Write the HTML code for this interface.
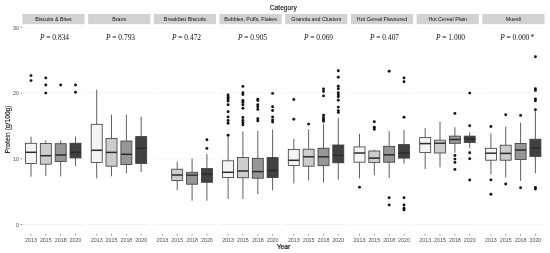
<!DOCTYPE html>
<html><head><meta charset="utf-8"><title>Protein by category and year</title>
<style>html,body{margin:0;padding:0;background:#fff}svg{display:block}</style></head>
<body>
<svg width="550" height="253" viewBox="0 0 550 253">
<rect width="550" height="253" fill="#fff"/>
<text x="283.3" y="9.7" text-anchor="middle" font-family="Liberation Sans, Arial, sans-serif" font-size="6.7" fill="#111" stroke="#111" stroke-width="0.12">Category</text>
<text x="283.5" y="248.7" text-anchor="middle" font-family="Liberation Sans, Arial, sans-serif" font-size="6.8" fill="#111" stroke="#111" stroke-width="0.2">Year</text>
<text transform="translate(10.1,129.4) rotate(-90)" text-anchor="middle" font-family="Liberation Sans, Arial, sans-serif" font-size="6.7" fill="#111" stroke="#111" stroke-width="0.12">Protein (g/100g)</text>
<text x="19.0" y="226.8" text-anchor="end" font-family="Liberation Sans, Arial, sans-serif" font-size="5.3" fill="#4d4d4d">0</text>
<line x1="20.6" x2="22.4" y1="224.5" y2="224.5" stroke="#333" stroke-width="0.5"/>
<text x="19.0" y="161.1" text-anchor="end" font-family="Liberation Sans, Arial, sans-serif" font-size="5.3" fill="#4d4d4d">10</text>
<line x1="20.6" x2="22.4" y1="158.8" y2="158.8" stroke="#333" stroke-width="0.5"/>
<text x="19.0" y="95.4" text-anchor="end" font-family="Liberation Sans, Arial, sans-serif" font-size="5.3" fill="#4d4d4d">20</text>
<line x1="20.6" x2="22.4" y1="93.1" y2="93.1" stroke="#333" stroke-width="0.5"/>
<text x="19.0" y="29.7" text-anchor="end" font-family="Liberation Sans, Arial, sans-serif" font-size="5.3" fill="#4d4d4d">30</text>
<line x1="20.6" x2="22.4" y1="27.4" y2="27.4" stroke="#333" stroke-width="0.5"/>
<rect x="22.4" y="14" width="62.2" height="10.2" fill="#d2d2d2"/>
<text x="53.5" y="21.3" text-anchor="middle" font-family="Liberation Sans, Arial, sans-serif" font-size="5.3" fill="#111">Biscuits &amp; Bites</text>
<line x1="22.4" x2="84.6" y1="224.5" y2="224.5" stroke="#d0d0d0" stroke-width="0.6" stroke-dasharray="0.8 1.2"/>
<line x1="22.4" x2="84.6" y1="158.8" y2="158.8" stroke="#d0d0d0" stroke-width="0.6" stroke-dasharray="0.8 1.2"/>
<line x1="22.4" x2="84.6" y1="93.1" y2="93.1" stroke="#d0d0d0" stroke-width="0.6" stroke-dasharray="0.8 1.2"/>
<line x1="22.4" x2="84.6" y1="27.4" y2="27.4" stroke="#ececec" stroke-width="0.6" stroke-dasharray="0.8 1.2"/>
<text x="54.5" y="39.8" text-anchor="middle" font-family="Liberation Serif, Times New Roman, serif" font-size="7.45" fill="#111"><tspan font-style="italic">P</tspan> = 0.834</text>
<line x1="31.0" x2="31.0" y1="233.9" y2="235.6" stroke="#333" stroke-width="0.5"/>
<text x="31.0" y="241.8" text-anchor="middle" font-family="Liberation Sans, Arial, sans-serif" font-size="5.3" fill="#4d4d4d">2013</text>
<line x1="31.0" x2="31.0" y1="136.5" y2="143.3" stroke="#383838" stroke-width="0.8"/>
<line x1="31.0" x2="31.0" y1="163.4" y2="176.7" stroke="#383838" stroke-width="0.8"/>
<rect x="25.5" y="143.3" width="11.0" height="20.1" fill="#f4f4f4" stroke="#383838" stroke-width="0.8"/>
<line x1="25.5" x2="36.5" y1="152.3" y2="152.3" stroke="#2a2a2a" stroke-width="1.5"/>
<circle cx="31.0" cy="75.6" r="1.45" fill="#111"/>
<circle cx="31.0" cy="80.6" r="1.45" fill="#111"/>
<line x1="45.8" x2="45.8" y1="233.9" y2="235.6" stroke="#333" stroke-width="0.5"/>
<text x="45.8" y="241.8" text-anchor="middle" font-family="Liberation Sans, Arial, sans-serif" font-size="5.3" fill="#4d4d4d">2015</text>
<line x1="45.8" x2="45.8" y1="140.4" y2="143.4" stroke="#383838" stroke-width="0.8"/>
<line x1="45.8" x2="45.8" y1="164.2" y2="176.1" stroke="#383838" stroke-width="0.8"/>
<rect x="40.3" y="143.4" width="11.0" height="20.8" fill="#cccccc" stroke="#383838" stroke-width="0.8"/>
<line x1="40.3" x2="51.3" y1="155.7" y2="155.7" stroke="#2a2a2a" stroke-width="1.5"/>
<circle cx="45.8" cy="77.9" r="1.45" fill="#111"/>
<circle cx="45.8" cy="85" r="1.45" fill="#111"/>
<circle cx="45.8" cy="93.1" r="1.45" fill="#111"/>
<line x1="60.7" x2="60.7" y1="233.9" y2="235.6" stroke="#333" stroke-width="0.5"/>
<text x="60.7" y="241.8" text-anchor="middle" font-family="Liberation Sans, Arial, sans-serif" font-size="5.3" fill="#4d4d4d">2018</text>
<line x1="60.7" x2="60.7" y1="140.4" y2="143.7" stroke="#383838" stroke-width="0.8"/>
<line x1="60.7" x2="60.7" y1="161.5" y2="176.5" stroke="#383838" stroke-width="0.8"/>
<rect x="55.2" y="143.7" width="11.0" height="17.8" fill="#969696" stroke="#383838" stroke-width="0.8"/>
<line x1="55.2" x2="66.2" y1="155" y2="155" stroke="#2a2a2a" stroke-width="1.5"/>
<circle cx="60.7" cy="85" r="1.45" fill="#111"/>
<line x1="75.5" x2="75.5" y1="233.9" y2="235.6" stroke="#333" stroke-width="0.5"/>
<text x="75.5" y="241.8" text-anchor="middle" font-family="Liberation Sans, Arial, sans-serif" font-size="5.3" fill="#4d4d4d">2020</text>
<line x1="75.5" x2="75.5" y1="136.5" y2="143.2" stroke="#383838" stroke-width="0.8"/>
<line x1="75.5" x2="75.5" y1="157.9" y2="165.9" stroke="#383838" stroke-width="0.8"/>
<rect x="70.0" y="143.2" width="11.0" height="14.7" fill="#414141" stroke="#383838" stroke-width="0.8"/>
<line x1="70.0" x2="81.0" y1="152.4" y2="152.4" stroke="#2a2a2a" stroke-width="1.5"/>
<circle cx="75.5" cy="85" r="1.45" fill="#111"/>
<circle cx="75.5" cy="92.3" r="1.45" fill="#111"/>
<rect x="88.1" y="14" width="62.2" height="10.2" fill="#d2d2d2"/>
<text x="119.2" y="21.3" text-anchor="middle" font-family="Liberation Sans, Arial, sans-serif" font-size="5.3" fill="#111">Brans</text>
<line x1="88.1" x2="150.3" y1="224.5" y2="224.5" stroke="#d0d0d0" stroke-width="0.6" stroke-dasharray="0.8 1.2"/>
<line x1="88.1" x2="150.3" y1="158.8" y2="158.8" stroke="#d0d0d0" stroke-width="0.6" stroke-dasharray="0.8 1.2"/>
<line x1="88.1" x2="150.3" y1="93.1" y2="93.1" stroke="#d0d0d0" stroke-width="0.6" stroke-dasharray="0.8 1.2"/>
<line x1="88.1" x2="150.3" y1="27.4" y2="27.4" stroke="#ececec" stroke-width="0.6" stroke-dasharray="0.8 1.2"/>
<text x="120.5" y="39.8" text-anchor="middle" font-family="Liberation Serif, Times New Roman, serif" font-size="7.45" fill="#111"><tspan font-style="italic">P</tspan> = 0.793</text>
<line x1="96.7" x2="96.7" y1="233.9" y2="235.6" stroke="#333" stroke-width="0.5"/>
<text x="96.7" y="241.8" text-anchor="middle" font-family="Liberation Sans, Arial, sans-serif" font-size="5.3" fill="#4d4d4d">2013</text>
<line x1="96.7" x2="96.7" y1="89.8" y2="124.3" stroke="#383838" stroke-width="0.8"/>
<line x1="96.7" x2="96.7" y1="162.4" y2="178.4" stroke="#383838" stroke-width="0.8"/>
<rect x="91.2" y="124.3" width="11.0" height="38.1" fill="#f4f4f4" stroke="#383838" stroke-width="0.8"/>
<line x1="91.2" x2="102.2" y1="150.3" y2="150.3" stroke="#2a2a2a" stroke-width="1.5"/>
<line x1="111.5" x2="111.5" y1="233.9" y2="235.6" stroke="#333" stroke-width="0.5"/>
<text x="111.5" y="241.8" text-anchor="middle" font-family="Liberation Sans, Arial, sans-serif" font-size="5.3" fill="#4d4d4d">2015</text>
<line x1="111.5" x2="111.5" y1="114.6" y2="138.5" stroke="#383838" stroke-width="0.8"/>
<line x1="111.5" x2="111.5" y1="166.2" y2="176.3" stroke="#383838" stroke-width="0.8"/>
<rect x="106.0" y="138.5" width="11.0" height="27.7" fill="#cccccc" stroke="#383838" stroke-width="0.8"/>
<line x1="106.0" x2="117.0" y1="152.4" y2="152.4" stroke="#2a2a2a" stroke-width="1.5"/>
<line x1="126.4" x2="126.4" y1="233.9" y2="235.6" stroke="#333" stroke-width="0.5"/>
<text x="126.4" y="241.8" text-anchor="middle" font-family="Liberation Sans, Arial, sans-serif" font-size="5.3" fill="#4d4d4d">2018</text>
<line x1="126.4" x2="126.4" y1="114.6" y2="141" stroke="#383838" stroke-width="0.8"/>
<line x1="126.4" x2="126.4" y1="164.6" y2="173.1" stroke="#383838" stroke-width="0.8"/>
<rect x="120.9" y="141" width="11.0" height="23.6" fill="#969696" stroke="#383838" stroke-width="0.8"/>
<line x1="120.9" x2="131.9" y1="154.3" y2="154.3" stroke="#2a2a2a" stroke-width="1.5"/>
<line x1="141.2" x2="141.2" y1="233.9" y2="235.6" stroke="#333" stroke-width="0.5"/>
<text x="141.2" y="241.8" text-anchor="middle" font-family="Liberation Sans, Arial, sans-serif" font-size="5.3" fill="#4d4d4d">2020</text>
<line x1="141.2" x2="141.2" y1="116.8" y2="136.6" stroke="#383838" stroke-width="0.8"/>
<line x1="141.2" x2="141.2" y1="163.4" y2="172.1" stroke="#383838" stroke-width="0.8"/>
<rect x="135.7" y="136.6" width="11.0" height="26.8" fill="#414141" stroke="#383838" stroke-width="0.8"/>
<line x1="135.7" x2="146.7" y1="148.3" y2="148.3" stroke="#2a2a2a" stroke-width="1.5"/>
<rect x="153.8" y="14" width="62.2" height="10.2" fill="#d2d2d2"/>
<text x="184.9" y="21.3" text-anchor="middle" font-family="Liberation Sans, Arial, sans-serif" font-size="5.3" fill="#111">Breakfast Biscuits</text>
<line x1="153.8" x2="216.0" y1="224.5" y2="224.5" stroke="#d0d0d0" stroke-width="0.6" stroke-dasharray="0.8 1.2"/>
<line x1="153.8" x2="216.0" y1="158.8" y2="158.8" stroke="#d0d0d0" stroke-width="0.6" stroke-dasharray="0.8 1.2"/>
<line x1="153.8" x2="216.0" y1="93.1" y2="93.1" stroke="#d0d0d0" stroke-width="0.6" stroke-dasharray="0.8 1.2"/>
<line x1="153.8" x2="216.0" y1="27.4" y2="27.4" stroke="#ececec" stroke-width="0.6" stroke-dasharray="0.8 1.2"/>
<text x="186.5" y="39.8" text-anchor="middle" font-family="Liberation Serif, Times New Roman, serif" font-size="7.45" fill="#111"><tspan font-style="italic">P</tspan> = 0.472</text>
<line x1="162.4" x2="162.4" y1="233.9" y2="235.6" stroke="#333" stroke-width="0.5"/>
<text x="162.4" y="241.8" text-anchor="middle" font-family="Liberation Sans, Arial, sans-serif" font-size="5.3" fill="#4d4d4d">2013</text>
<line x1="177.2" x2="177.2" y1="233.9" y2="235.6" stroke="#333" stroke-width="0.5"/>
<text x="177.2" y="241.8" text-anchor="middle" font-family="Liberation Sans, Arial, sans-serif" font-size="5.3" fill="#4d4d4d">2015</text>
<line x1="177.2" x2="177.2" y1="161.7" y2="169.2" stroke="#383838" stroke-width="0.8"/>
<line x1="177.2" x2="177.2" y1="180.4" y2="190.2" stroke="#383838" stroke-width="0.8"/>
<rect x="171.7" y="169.2" width="11.0" height="11.2" fill="#cccccc" stroke="#383838" stroke-width="0.8"/>
<line x1="171.7" x2="182.7" y1="175" y2="175" stroke="#2a2a2a" stroke-width="1.5"/>
<line x1="192.1" x2="192.1" y1="233.9" y2="235.6" stroke="#333" stroke-width="0.5"/>
<text x="192.1" y="241.8" text-anchor="middle" font-family="Liberation Sans, Arial, sans-serif" font-size="5.3" fill="#4d4d4d">2018</text>
<line x1="192.1" x2="192.1" y1="158.5" y2="172.3" stroke="#383838" stroke-width="0.8"/>
<line x1="192.1" x2="192.1" y1="184.2" y2="200.7" stroke="#383838" stroke-width="0.8"/>
<rect x="186.6" y="172.3" width="11.0" height="11.9" fill="#969696" stroke="#383838" stroke-width="0.8"/>
<line x1="186.6" x2="197.6" y1="175.1" y2="175.1" stroke="#2a2a2a" stroke-width="1.5"/>
<line x1="206.9" x2="206.9" y1="233.9" y2="235.6" stroke="#333" stroke-width="0.5"/>
<text x="206.9" y="241.8" text-anchor="middle" font-family="Liberation Sans, Arial, sans-serif" font-size="5.3" fill="#4d4d4d">2020</text>
<line x1="206.9" x2="206.9" y1="153.8" y2="168.6" stroke="#383838" stroke-width="0.8"/>
<line x1="206.9" x2="206.9" y1="182.3" y2="200.7" stroke="#383838" stroke-width="0.8"/>
<rect x="201.4" y="168.6" width="11.0" height="13.7" fill="#414141" stroke="#383838" stroke-width="0.8"/>
<line x1="201.4" x2="212.4" y1="174" y2="174" stroke="#2a2a2a" stroke-width="1.5"/>
<circle cx="206.9" cy="139.8" r="1.45" fill="#111"/>
<circle cx="206.9" cy="148.4" r="1.45" fill="#111"/>
<rect x="219.5" y="14" width="62.2" height="10.2" fill="#d2d2d2"/>
<text x="250.6" y="21.3" text-anchor="middle" font-family="Liberation Sans, Arial, sans-serif" font-size="5.3" fill="#111">Bubbles, Puffs, Flakes</text>
<line x1="219.5" x2="281.7" y1="224.5" y2="224.5" stroke="#d0d0d0" stroke-width="0.6" stroke-dasharray="0.8 1.2"/>
<line x1="219.5" x2="281.7" y1="158.8" y2="158.8" stroke="#d0d0d0" stroke-width="0.6" stroke-dasharray="0.8 1.2"/>
<line x1="219.5" x2="281.7" y1="93.1" y2="93.1" stroke="#d0d0d0" stroke-width="0.6" stroke-dasharray="0.8 1.2"/>
<line x1="219.5" x2="281.7" y1="27.4" y2="27.4" stroke="#ececec" stroke-width="0.6" stroke-dasharray="0.8 1.2"/>
<text x="252.5" y="39.8" text-anchor="middle" font-family="Liberation Serif, Times New Roman, serif" font-size="7.45" fill="#111"><tspan font-style="italic">P</tspan> = 0.905</text>
<line x1="228.1" x2="228.1" y1="233.9" y2="235.6" stroke="#333" stroke-width="0.5"/>
<text x="228.1" y="241.8" text-anchor="middle" font-family="Liberation Sans, Arial, sans-serif" font-size="5.3" fill="#4d4d4d">2013</text>
<line x1="228.1" x2="228.1" y1="136.5" y2="160.8" stroke="#383838" stroke-width="0.8"/>
<line x1="228.1" x2="228.1" y1="177.6" y2="198.9" stroke="#383838" stroke-width="0.8"/>
<rect x="222.6" y="160.8" width="11.0" height="16.8" fill="#f4f4f4" stroke="#383838" stroke-width="0.8"/>
<line x1="222.6" x2="233.6" y1="172.3" y2="172.3" stroke="#2a2a2a" stroke-width="1.5"/>
<circle cx="228.1" cy="95" r="1.45" fill="#111"/>
<circle cx="228.1" cy="97.2" r="1.45" fill="#111"/>
<circle cx="228.1" cy="99.1" r="1.45" fill="#111"/>
<circle cx="228.1" cy="101" r="1.45" fill="#111"/>
<circle cx="228.1" cy="104.8" r="1.45" fill="#111"/>
<circle cx="228.1" cy="111.8" r="1.45" fill="#111"/>
<circle cx="228.1" cy="116.9" r="1.45" fill="#111"/>
<circle cx="228.1" cy="120.5" r="1.45" fill="#111"/>
<circle cx="228.1" cy="123.2" r="1.45" fill="#111"/>
<circle cx="228.1" cy="135.3" r="1.45" fill="#111"/>
<line x1="242.9" x2="242.9" y1="233.9" y2="235.6" stroke="#333" stroke-width="0.5"/>
<text x="242.9" y="241.8" text-anchor="middle" font-family="Liberation Sans, Arial, sans-serif" font-size="5.3" fill="#4d4d4d">2015</text>
<line x1="242.9" x2="242.9" y1="131.5" y2="157.4" stroke="#383838" stroke-width="0.8"/>
<line x1="242.9" x2="242.9" y1="177.8" y2="198.9" stroke="#383838" stroke-width="0.8"/>
<rect x="237.4" y="157.4" width="11.0" height="20.4" fill="#cccccc" stroke="#383838" stroke-width="0.8"/>
<line x1="237.4" x2="248.4" y1="171" y2="171" stroke="#2a2a2a" stroke-width="1.5"/>
<circle cx="242.9" cy="86.4" r="1.45" fill="#111"/>
<circle cx="242.9" cy="92.7" r="1.45" fill="#111"/>
<circle cx="242.9" cy="94.6" r="1.45" fill="#111"/>
<circle cx="242.9" cy="100.4" r="1.45" fill="#111"/>
<circle cx="242.9" cy="102.3" r="1.45" fill="#111"/>
<circle cx="242.9" cy="104.8" r="1.45" fill="#111"/>
<circle cx="242.9" cy="108.2" r="1.45" fill="#111"/>
<circle cx="242.9" cy="117.5" r="1.45" fill="#111"/>
<circle cx="242.9" cy="120.5" r="1.45" fill="#111"/>
<circle cx="242.9" cy="122.6" r="1.45" fill="#111"/>
<circle cx="242.9" cy="124.7" r="1.45" fill="#111"/>
<line x1="257.8" x2="257.8" y1="233.9" y2="235.6" stroke="#333" stroke-width="0.5"/>
<text x="257.8" y="241.8" text-anchor="middle" font-family="Liberation Sans, Arial, sans-serif" font-size="5.3" fill="#4d4d4d">2018</text>
<line x1="257.8" x2="257.8" y1="130.9" y2="158.3" stroke="#383838" stroke-width="0.8"/>
<line x1="257.8" x2="257.8" y1="178.2" y2="194.1" stroke="#383838" stroke-width="0.8"/>
<rect x="252.3" y="158.3" width="11.0" height="19.9" fill="#969696" stroke="#383838" stroke-width="0.8"/>
<line x1="252.3" x2="263.3" y1="171.6" y2="171.6" stroke="#2a2a2a" stroke-width="1.5"/>
<circle cx="257.8" cy="99.1" r="1.45" fill="#111"/>
<circle cx="257.8" cy="100.6" r="1.45" fill="#111"/>
<circle cx="257.8" cy="104.8" r="1.45" fill="#111"/>
<circle cx="257.8" cy="106.7" r="1.45" fill="#111"/>
<circle cx="257.8" cy="109.4" r="1.45" fill="#111"/>
<circle cx="257.8" cy="118.8" r="1.45" fill="#111"/>
<circle cx="257.8" cy="120.9" r="1.45" fill="#111"/>
<line x1="272.6" x2="272.6" y1="233.9" y2="235.6" stroke="#333" stroke-width="0.5"/>
<text x="272.6" y="241.8" text-anchor="middle" font-family="Liberation Sans, Arial, sans-serif" font-size="5.3" fill="#4d4d4d">2020</text>
<line x1="272.6" x2="272.6" y1="129.6" y2="157.6" stroke="#383838" stroke-width="0.8"/>
<line x1="272.6" x2="272.6" y1="177.5" y2="190.3" stroke="#383838" stroke-width="0.8"/>
<rect x="267.1" y="157.6" width="11.0" height="19.9" fill="#414141" stroke="#383838" stroke-width="0.8"/>
<line x1="267.1" x2="278.1" y1="170.5" y2="170.5" stroke="#2a2a2a" stroke-width="1.5"/>
<circle cx="272.6" cy="93.4" r="1.45" fill="#111"/>
<circle cx="272.6" cy="106.7" r="1.45" fill="#111"/>
<circle cx="272.6" cy="110.5" r="1.45" fill="#111"/>
<circle cx="272.6" cy="116.9" r="1.45" fill="#111"/>
<circle cx="272.6" cy="119.9" r="1.45" fill="#111"/>
<circle cx="272.6" cy="122" r="1.45" fill="#111"/>
<rect x="285.2" y="14" width="62.2" height="10.2" fill="#d2d2d2"/>
<text x="316.3" y="21.3" text-anchor="middle" font-family="Liberation Sans, Arial, sans-serif" font-size="5.3" fill="#111">Granola and Clusters</text>
<line x1="285.2" x2="347.4" y1="224.5" y2="224.5" stroke="#d0d0d0" stroke-width="0.6" stroke-dasharray="0.8 1.2"/>
<line x1="285.2" x2="347.4" y1="158.8" y2="158.8" stroke="#d0d0d0" stroke-width="0.6" stroke-dasharray="0.8 1.2"/>
<line x1="285.2" x2="347.4" y1="93.1" y2="93.1" stroke="#d0d0d0" stroke-width="0.6" stroke-dasharray="0.8 1.2"/>
<line x1="285.2" x2="347.4" y1="27.4" y2="27.4" stroke="#ececec" stroke-width="0.6" stroke-dasharray="0.8 1.2"/>
<text x="318.5" y="39.8" text-anchor="middle" font-family="Liberation Serif, Times New Roman, serif" font-size="7.45" fill="#111"><tspan font-style="italic">P</tspan> = 0.069</text>
<line x1="293.8" x2="293.8" y1="233.9" y2="235.6" stroke="#333" stroke-width="0.5"/>
<text x="293.8" y="241.8" text-anchor="middle" font-family="Liberation Sans, Arial, sans-serif" font-size="5.3" fill="#4d4d4d">2013</text>
<line x1="293.8" x2="293.8" y1="139" y2="149.5" stroke="#383838" stroke-width="0.8"/>
<line x1="293.8" x2="293.8" y1="165.4" y2="183.5" stroke="#383838" stroke-width="0.8"/>
<rect x="288.3" y="149.5" width="11.0" height="15.9" fill="#f4f4f4" stroke="#383838" stroke-width="0.8"/>
<line x1="288.3" x2="299.3" y1="160.3" y2="160.3" stroke="#2a2a2a" stroke-width="1.5"/>
<circle cx="293.8" cy="99.5" r="1.45" fill="#111"/>
<circle cx="293.8" cy="119.3" r="1.45" fill="#111"/>
<line x1="308.6" x2="308.6" y1="233.9" y2="235.6" stroke="#333" stroke-width="0.5"/>
<text x="308.6" y="241.8" text-anchor="middle" font-family="Liberation Sans, Arial, sans-serif" font-size="5.3" fill="#4d4d4d">2015</text>
<line x1="308.6" x2="308.6" y1="129.2" y2="149.2" stroke="#383838" stroke-width="0.8"/>
<line x1="308.6" x2="308.6" y1="166.2" y2="180.4" stroke="#383838" stroke-width="0.8"/>
<rect x="303.1" y="149.2" width="11.0" height="17.0" fill="#cccccc" stroke="#383838" stroke-width="0.8"/>
<line x1="303.1" x2="314.1" y1="156.8" y2="156.8" stroke="#2a2a2a" stroke-width="1.5"/>
<circle cx="308.6" cy="124.1" r="1.45" fill="#111"/>
<line x1="323.5" x2="323.5" y1="233.9" y2="235.6" stroke="#333" stroke-width="0.5"/>
<text x="323.5" y="241.8" text-anchor="middle" font-family="Liberation Sans, Arial, sans-serif" font-size="5.3" fill="#4d4d4d">2018</text>
<line x1="323.5" x2="323.5" y1="124.1" y2="148.2" stroke="#383838" stroke-width="0.8"/>
<line x1="323.5" x2="323.5" y1="165.7" y2="182.6" stroke="#383838" stroke-width="0.8"/>
<rect x="318.0" y="148.2" width="11.0" height="17.5" fill="#969696" stroke="#383838" stroke-width="0.8"/>
<line x1="318.0" x2="329.0" y1="156.8" y2="156.8" stroke="#2a2a2a" stroke-width="1.5"/>
<circle cx="323.5" cy="88.9" r="1.45" fill="#111"/>
<circle cx="323.5" cy="91.4" r="1.45" fill="#111"/>
<circle cx="323.5" cy="95.9" r="1.45" fill="#111"/>
<circle cx="323.5" cy="115.2" r="1.45" fill="#111"/>
<circle cx="323.5" cy="117.7" r="1.45" fill="#111"/>
<circle cx="323.5" cy="119.4" r="1.45" fill="#111"/>
<circle cx="323.5" cy="121.2" r="1.45" fill="#111"/>
<line x1="338.3" x2="338.3" y1="233.9" y2="235.6" stroke="#333" stroke-width="0.5"/>
<text x="338.3" y="241.8" text-anchor="middle" font-family="Liberation Sans, Arial, sans-serif" font-size="5.3" fill="#4d4d4d">2020</text>
<line x1="338.3" x2="338.3" y1="117.7" y2="145" stroke="#383838" stroke-width="0.8"/>
<line x1="338.3" x2="338.3" y1="162.8" y2="179.7" stroke="#383838" stroke-width="0.8"/>
<rect x="332.8" y="145" width="11.0" height="17.8" fill="#414141" stroke="#383838" stroke-width="0.8"/>
<line x1="332.8" x2="343.8" y1="155.2" y2="155.2" stroke="#2a2a2a" stroke-width="1.5"/>
<circle cx="338.3" cy="70.7" r="1.45" fill="#111"/>
<circle cx="338.3" cy="77.3" r="1.45" fill="#111"/>
<circle cx="338.3" cy="86.2" r="1.45" fill="#111"/>
<circle cx="338.3" cy="88.7" r="1.45" fill="#111"/>
<circle cx="338.3" cy="92.8" r="1.45" fill="#111"/>
<circle cx="338.3" cy="95" r="1.45" fill="#111"/>
<circle cx="338.3" cy="96.7" r="1.45" fill="#111"/>
<circle cx="338.3" cy="100.3" r="1.45" fill="#111"/>
<circle cx="338.3" cy="107.1" r="1.45" fill="#111"/>
<circle cx="338.3" cy="110.6" r="1.45" fill="#111"/>
<circle cx="338.3" cy="112.4" r="1.45" fill="#111"/>
<rect x="350.9" y="14" width="62.2" height="10.2" fill="#d2d2d2"/>
<text x="382.0" y="21.3" text-anchor="middle" font-family="Liberation Sans, Arial, sans-serif" font-size="5.3" fill="#111">Hot Cereal Flavoured</text>
<line x1="350.9" x2="413.1" y1="224.5" y2="224.5" stroke="#d0d0d0" stroke-width="0.6" stroke-dasharray="0.8 1.2"/>
<line x1="350.9" x2="413.1" y1="158.8" y2="158.8" stroke="#d0d0d0" stroke-width="0.6" stroke-dasharray="0.8 1.2"/>
<line x1="350.9" x2="413.1" y1="93.1" y2="93.1" stroke="#d0d0d0" stroke-width="0.6" stroke-dasharray="0.8 1.2"/>
<line x1="350.9" x2="413.1" y1="27.4" y2="27.4" stroke="#ececec" stroke-width="0.6" stroke-dasharray="0.8 1.2"/>
<text x="384.5" y="39.8" text-anchor="middle" font-family="Liberation Serif, Times New Roman, serif" font-size="7.45" fill="#111"><tspan font-style="italic">P</tspan> = 0.407</text>
<line x1="359.5" x2="359.5" y1="233.9" y2="235.6" stroke="#333" stroke-width="0.5"/>
<text x="359.5" y="241.8" text-anchor="middle" font-family="Liberation Sans, Arial, sans-serif" font-size="5.3" fill="#4d4d4d">2013</text>
<line x1="359.5" x2="359.5" y1="133.9" y2="146.9" stroke="#383838" stroke-width="0.8"/>
<line x1="359.5" x2="359.5" y1="162.2" y2="178.4" stroke="#383838" stroke-width="0.8"/>
<rect x="354.0" y="146.9" width="11.0" height="15.3" fill="#f4f4f4" stroke="#383838" stroke-width="0.8"/>
<line x1="354.0" x2="365.0" y1="153" y2="153" stroke="#2a2a2a" stroke-width="1.5"/>
<circle cx="359.5" cy="187.3" r="1.45" fill="#111"/>
<line x1="374.3" x2="374.3" y1="233.9" y2="235.6" stroke="#333" stroke-width="0.5"/>
<text x="374.3" y="241.8" text-anchor="middle" font-family="Liberation Sans, Arial, sans-serif" font-size="5.3" fill="#4d4d4d">2015</text>
<line x1="374.3" x2="374.3" y1="149.5" y2="151" stroke="#383838" stroke-width="0.8"/>
<line x1="374.3" x2="374.3" y1="162.4" y2="175.2" stroke="#383838" stroke-width="0.8"/>
<rect x="368.8" y="151" width="11.0" height="11.4" fill="#cccccc" stroke="#383838" stroke-width="0.8"/>
<line x1="368.8" x2="379.8" y1="158.1" y2="158.1" stroke="#2a2a2a" stroke-width="1.5"/>
<circle cx="374.3" cy="121.8" r="1.45" fill="#111"/>
<circle cx="374.3" cy="127.3" r="1.45" fill="#111"/>
<circle cx="374.3" cy="129.2" r="1.45" fill="#111"/>
<line x1="389.2" x2="389.2" y1="233.9" y2="235.6" stroke="#333" stroke-width="0.5"/>
<text x="389.2" y="241.8" text-anchor="middle" font-family="Liberation Sans, Arial, sans-serif" font-size="5.3" fill="#4d4d4d">2018</text>
<line x1="389.2" x2="389.2" y1="131.1" y2="146.3" stroke="#383838" stroke-width="0.8"/>
<line x1="389.2" x2="389.2" y1="162.2" y2="178.1" stroke="#383838" stroke-width="0.8"/>
<rect x="383.7" y="146.3" width="11.0" height="15.9" fill="#969696" stroke="#383838" stroke-width="0.8"/>
<line x1="383.7" x2="394.7" y1="154.8" y2="154.8" stroke="#2a2a2a" stroke-width="1.5"/>
<circle cx="389.2" cy="71.2" r="1.45" fill="#111"/>
<circle cx="389.2" cy="197.7" r="1.45" fill="#111"/>
<circle cx="389.2" cy="205" r="1.45" fill="#111"/>
<line x1="404.0" x2="404.0" y1="233.9" y2="235.6" stroke="#333" stroke-width="0.5"/>
<text x="404.0" y="241.8" text-anchor="middle" font-family="Liberation Sans, Arial, sans-serif" font-size="5.3" fill="#4d4d4d">2020</text>
<line x1="404.0" x2="404.0" y1="129.8" y2="144.6" stroke="#383838" stroke-width="0.8"/>
<line x1="404.0" x2="404.0" y1="158.1" y2="163.7" stroke="#383838" stroke-width="0.8"/>
<rect x="398.5" y="144.6" width="11.0" height="13.5" fill="#414141" stroke="#383838" stroke-width="0.8"/>
<line x1="398.5" x2="409.5" y1="153" y2="153" stroke="#2a2a2a" stroke-width="1.5"/>
<circle cx="404.0" cy="77.9" r="1.45" fill="#111"/>
<circle cx="404.0" cy="81.7" r="1.45" fill="#111"/>
<circle cx="404.0" cy="117.3" r="1.45" fill="#111"/>
<circle cx="404.0" cy="197.7" r="1.45" fill="#111"/>
<circle cx="404.0" cy="205" r="1.45" fill="#111"/>
<circle cx="404.0" cy="208.2" r="1.45" fill="#111"/>
<circle cx="404.0" cy="209.9" r="1.45" fill="#111"/>
<rect x="416.6" y="14" width="62.2" height="10.2" fill="#d2d2d2"/>
<text x="447.7" y="21.3" text-anchor="middle" font-family="Liberation Sans, Arial, sans-serif" font-size="5.3" fill="#111">Hot Cereal Plain</text>
<line x1="416.6" x2="478.8" y1="224.5" y2="224.5" stroke="#d0d0d0" stroke-width="0.6" stroke-dasharray="0.8 1.2"/>
<line x1="416.6" x2="478.8" y1="158.8" y2="158.8" stroke="#d0d0d0" stroke-width="0.6" stroke-dasharray="0.8 1.2"/>
<line x1="416.6" x2="478.8" y1="93.1" y2="93.1" stroke="#d0d0d0" stroke-width="0.6" stroke-dasharray="0.8 1.2"/>
<line x1="416.6" x2="478.8" y1="27.4" y2="27.4" stroke="#ececec" stroke-width="0.6" stroke-dasharray="0.8 1.2"/>
<text x="450.5" y="39.8" text-anchor="middle" font-family="Liberation Serif, Times New Roman, serif" font-size="7.45" fill="#111"><tspan font-style="italic">P</tspan> = 1.000</text>
<line x1="425.2" x2="425.2" y1="233.9" y2="235.6" stroke="#333" stroke-width="0.5"/>
<text x="425.2" y="241.8" text-anchor="middle" font-family="Liberation Sans, Arial, sans-serif" font-size="5.3" fill="#4d4d4d">2013</text>
<line x1="425.2" x2="425.2" y1="128.1" y2="137.4" stroke="#383838" stroke-width="0.8"/>
<line x1="425.2" x2="425.2" y1="152.5" y2="169" stroke="#383838" stroke-width="0.8"/>
<rect x="419.7" y="137.4" width="11.0" height="15.1" fill="#f4f4f4" stroke="#383838" stroke-width="0.8"/>
<line x1="419.7" x2="430.7" y1="143.6" y2="143.6" stroke="#2a2a2a" stroke-width="1.5"/>
<line x1="440.0" x2="440.0" y1="233.9" y2="235.6" stroke="#333" stroke-width="0.5"/>
<text x="440.0" y="241.8" text-anchor="middle" font-family="Liberation Sans, Arial, sans-serif" font-size="5.3" fill="#4d4d4d">2015</text>
<line x1="440.0" x2="440.0" y1="121.7" y2="140.2" stroke="#383838" stroke-width="0.8"/>
<line x1="440.0" x2="440.0" y1="153" y2="167.4" stroke="#383838" stroke-width="0.8"/>
<rect x="434.5" y="140.2" width="11.0" height="12.8" fill="#cccccc" stroke="#383838" stroke-width="0.8"/>
<line x1="434.5" x2="445.5" y1="143.2" y2="143.2" stroke="#2a2a2a" stroke-width="1.5"/>
<line x1="454.9" x2="454.9" y1="233.9" y2="235.6" stroke="#333" stroke-width="0.5"/>
<text x="454.9" y="241.8" text-anchor="middle" font-family="Liberation Sans, Arial, sans-serif" font-size="5.3" fill="#4d4d4d">2018</text>
<line x1="454.9" x2="454.9" y1="127.2" y2="136.1" stroke="#383838" stroke-width="0.8"/>
<line x1="454.9" x2="454.9" y1="143.3" y2="152.7" stroke="#383838" stroke-width="0.8"/>
<rect x="449.4" y="136.1" width="11.0" height="7.2" fill="#969696" stroke="#383838" stroke-width="0.8"/>
<line x1="449.4" x2="460.4" y1="139.5" y2="139.5" stroke="#2a2a2a" stroke-width="1.5"/>
<circle cx="454.9" cy="113.4" r="1.45" fill="#111"/>
<circle cx="454.9" cy="155.5" r="1.45" fill="#111"/>
<circle cx="454.9" cy="159.1" r="1.45" fill="#111"/>
<circle cx="454.9" cy="162.4" r="1.45" fill="#111"/>
<circle cx="454.9" cy="169.4" r="1.45" fill="#111"/>
<line x1="469.7" x2="469.7" y1="233.9" y2="235.6" stroke="#333" stroke-width="0.5"/>
<text x="469.7" y="241.8" text-anchor="middle" font-family="Liberation Sans, Arial, sans-serif" font-size="5.3" fill="#4d4d4d">2020</text>
<line x1="469.7" x2="469.7" y1="132.3" y2="136.1" stroke="#383838" stroke-width="0.8"/>
<line x1="469.7" x2="469.7" y1="142.4" y2="148.3" stroke="#383838" stroke-width="0.8"/>
<rect x="464.2" y="136.1" width="11.0" height="6.3" fill="#414141" stroke="#383838" stroke-width="0.8"/>
<line x1="464.2" x2="475.2" y1="138.9" y2="138.9" stroke="#2a2a2a" stroke-width="1.5"/>
<circle cx="469.7" cy="93.1" r="1.45" fill="#111"/>
<circle cx="469.7" cy="125.8" r="1.45" fill="#111"/>
<circle cx="469.7" cy="152.7" r="1.45" fill="#111"/>
<circle cx="469.7" cy="158.8" r="1.45" fill="#111"/>
<circle cx="469.7" cy="180" r="1.45" fill="#111"/>
<rect x="482.3" y="14" width="62.2" height="10.2" fill="#d2d2d2"/>
<text x="513.4" y="21.3" text-anchor="middle" font-family="Liberation Sans, Arial, sans-serif" font-size="5.3" fill="#111">Muesli</text>
<line x1="482.3" x2="544.5" y1="224.5" y2="224.5" stroke="#d0d0d0" stroke-width="0.6" stroke-dasharray="0.8 1.2"/>
<line x1="482.3" x2="544.5" y1="158.8" y2="158.8" stroke="#d0d0d0" stroke-width="0.6" stroke-dasharray="0.8 1.2"/>
<line x1="482.3" x2="544.5" y1="93.1" y2="93.1" stroke="#d0d0d0" stroke-width="0.6" stroke-dasharray="0.8 1.2"/>
<line x1="482.3" x2="544.5" y1="27.4" y2="27.4" stroke="#ececec" stroke-width="0.6" stroke-dasharray="0.8 1.2"/>
<text x="517.2" y="39.8" text-anchor="middle" font-family="Liberation Serif, Times New Roman, serif" font-size="7.45" fill="#111"><tspan font-style="italic">P</tspan> = 0.000<tspan dx="1.2">*</tspan></text>
<line x1="490.9" x2="490.9" y1="233.9" y2="235.6" stroke="#333" stroke-width="0.5"/>
<text x="490.9" y="241.8" text-anchor="middle" font-family="Liberation Sans, Arial, sans-serif" font-size="5.3" fill="#4d4d4d">2013</text>
<line x1="490.9" x2="490.9" y1="133.5" y2="148.3" stroke="#383838" stroke-width="0.8"/>
<line x1="490.9" x2="490.9" y1="160.2" y2="174.4" stroke="#383838" stroke-width="0.8"/>
<rect x="485.4" y="148.3" width="11.0" height="11.9" fill="#f4f4f4" stroke="#383838" stroke-width="0.8"/>
<line x1="485.4" x2="496.4" y1="153.2" y2="153.2" stroke="#2a2a2a" stroke-width="1.5"/>
<circle cx="490.9" cy="126.5" r="1.45" fill="#111"/>
<circle cx="490.9" cy="179.9" r="1.45" fill="#111"/>
<circle cx="490.9" cy="194.3" r="1.45" fill="#111"/>
<line x1="505.7" x2="505.7" y1="233.9" y2="235.6" stroke="#333" stroke-width="0.5"/>
<text x="505.7" y="241.8" text-anchor="middle" font-family="Liberation Sans, Arial, sans-serif" font-size="5.3" fill="#4d4d4d">2015</text>
<line x1="505.7" x2="505.7" y1="126.5" y2="145.2" stroke="#383838" stroke-width="0.8"/>
<line x1="505.7" x2="505.7" y1="160.2" y2="177.4" stroke="#383838" stroke-width="0.8"/>
<rect x="500.2" y="145.2" width="11.0" height="15.0" fill="#cccccc" stroke="#383838" stroke-width="0.8"/>
<line x1="500.2" x2="511.2" y1="153.4" y2="153.4" stroke="#2a2a2a" stroke-width="1.5"/>
<circle cx="505.7" cy="114.8" r="1.45" fill="#111"/>
<circle cx="505.7" cy="184" r="1.45" fill="#111"/>
<line x1="520.6" x2="520.6" y1="233.9" y2="235.6" stroke="#333" stroke-width="0.5"/>
<text x="520.6" y="241.8" text-anchor="middle" font-family="Liberation Sans, Arial, sans-serif" font-size="5.3" fill="#4d4d4d">2018</text>
<line x1="520.6" x2="520.6" y1="122.5" y2="143.4" stroke="#383838" stroke-width="0.8"/>
<line x1="520.6" x2="520.6" y1="159.5" y2="180.9" stroke="#383838" stroke-width="0.8"/>
<rect x="515.1" y="143.4" width="11.0" height="16.1" fill="#969696" stroke="#383838" stroke-width="0.8"/>
<line x1="515.1" x2="526.1" y1="150" y2="150" stroke="#2a2a2a" stroke-width="1.5"/>
<circle cx="520.6" cy="115.4" r="1.45" fill="#111"/>
<circle cx="520.6" cy="187.8" r="1.45" fill="#111"/>
<line x1="535.4" x2="535.4" y1="233.9" y2="235.6" stroke="#333" stroke-width="0.5"/>
<text x="535.4" y="241.8" text-anchor="middle" font-family="Liberation Sans, Arial, sans-serif" font-size="5.3" fill="#4d4d4d">2020</text>
<line x1="535.4" x2="535.4" y1="111.3" y2="139.2" stroke="#383838" stroke-width="0.8"/>
<line x1="535.4" x2="535.4" y1="156.4" y2="173.5" stroke="#383838" stroke-width="0.8"/>
<rect x="529.9" y="139.2" width="11.0" height="17.2" fill="#414141" stroke="#383838" stroke-width="0.8"/>
<line x1="529.9" x2="540.9" y1="148" y2="148" stroke="#2a2a2a" stroke-width="1.5"/>
<circle cx="535.4" cy="56.7" r="1.45" fill="#111"/>
<circle cx="535.4" cy="88.8" r="1.45" fill="#111"/>
<circle cx="535.4" cy="90.4" r="1.45" fill="#111"/>
<circle cx="535.4" cy="99" r="1.45" fill="#111"/>
<circle cx="535.4" cy="100.8" r="1.45" fill="#111"/>
<circle cx="535.4" cy="109.8" r="1.45" fill="#111"/>
<circle cx="535.4" cy="187.4" r="1.45" fill="#111"/>
<circle cx="535.4" cy="189" r="1.45" fill="#111"/>
</svg>
</body></html>
